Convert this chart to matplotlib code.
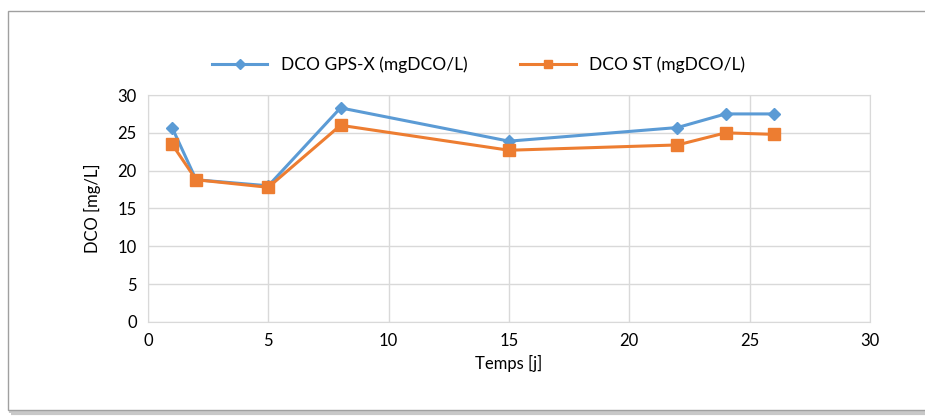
import matplotlib
matplotlib.use('Agg')
import matplotlib.pyplot as plt
from matplotlib.patches import Rectangle

temps = [1, 2, 5, 8, 15, 22, 24, 26]
dco_gps = [25.7, 18.8, 18.0, 28.3, 23.9, 25.7, 27.5, 27.5]
dco_st = [23.5, 18.8, 17.8, 26.0, 22.7, 23.4, 25.0, 24.8]

plt.rcParams['font.family'] = ['Lato', 'DejaVu Sans']

fig = plt.figure(figsize=(9.25, 4.18), dpi=100)
# chart border with shadow
fig.patches.append(Rectangle((0.012, 0.012), 0.995, 0.955, transform=fig.transFigure,
                             facecolor='none', edgecolor='#c8c8c8', lw=3, zorder=-11))
fig.patches.append(Rectangle((0.009, 0.018), 0.995, 0.955, transform=fig.transFigure,
                             facecolor='white', edgecolor='#a0a0a0', lw=1, zorder=-10))

ax = fig.add_axes([0.16, 0.2297, 0.7805, 0.543])
ax.patch.set_alpha(0)
ax.plot(temps, dco_gps, color='#5b9bd5', lw=2.2, marker='D', ms=6,
        label='DCO GPS-X (mgDCO/L)')
ax.plot(temps, dco_st, color='#ed7d31', lw=2.2, marker='s', ms=8,
        label='DCO ST (mgDCO/L)')

ax.set_xlim(0, 30)
ax.set_ylim(0, 30)
ax.set_xticks(range(0, 31, 5))
ax.set_yticks(range(0, 31, 5))
ax.grid(True, color='#d9d9d9', lw=1)
ax.set_axisbelow(True)
for s in ax.spines.values():
    s.set_color('#d9d9d9')
ax.tick_params(length=0, labelsize=12, pad=8)
ax.set_xlabel('Temps [j]', fontsize=12, labelpad=4)
ax.set_ylabel('DCO [mg/L]', fontsize=12, labelpad=12)

ax.legend(loc='lower center', bbox_to_anchor=(0.458, 1.03), ncol=2, frameon=False,
          fontsize=12.5, handlelength=3.2, columnspacing=3.0, markerscale=0.8)

fig.savefig('out.png', dpi=100)
